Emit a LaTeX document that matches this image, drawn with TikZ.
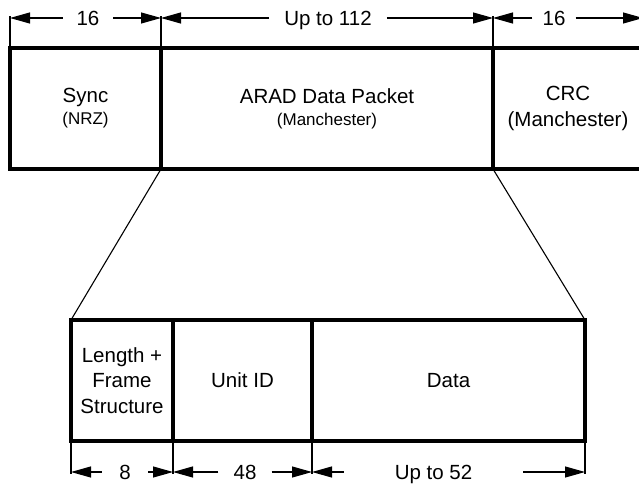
\documentclass[tikz,border=0pt]{standalone}
\usepackage{fontspec}
\setmainfont{Liberation Sans}
\usetikzlibrary{arrows.meta}
\begin{document}
\begin{tikzpicture}[x=1pt,y=-1pt,
  box/.style={draw, line width=4pt, outer sep=0pt, inner sep=0pt, minimum height=121pt, align=center},
  bigfont/.style={font=\fontsize{20.5}{#1}\selectfont},
  dim/.style={line width=1.1pt, -{Triangle[length=20pt,width=11pt]}},
  ext/.style={line width=1.1pt},
  lbl/.style={inner ysep=0pt, text height=14.7pt, text depth=0pt, font=\fontsize{20.5}{21}\selectfont}]
\newcommand{\subtxt}[1]{{\fontsize{17}{21}\selectfont #1}}
\useasboundingbox (0,0) rectangle (639,484);
% top frame
\node[box, bigfont=22, minimum width=151pt] (sync) at (85.5,108.5) {Sync\\\subtxt{(NRZ)}};
\node[box, bigfont=22, minimum width=332pt] (arad) at (327,108.5) {ARAD Data Packet\\\subtxt{(Manchester)}};
\node[box, bigfont=26, minimum width=150pt] (crc) at (568,108.5) {CRC\\(Manchester)};
% bottom frame
\node[box, bigfont=25.5, minimum width=102pt] (len) at (122,380.5) {Length +\\Frame\\Structure};
\node[box, bigfont=25.5, minimum width=139pt] (uid) at (242.5,380.5) {Unit ID};
\node[box, bigfont=25.5, minimum width=273pt] (data) at (448.5,380.5) {Data};
% zoom lines
\draw[ext] (arad.south west) -- (len.north west);
\draw[ext] (arad.south east) -- (data.north east);
% top extension lines
\coordinate (e1) at (10,16);
\coordinate (e2) at (161,16);
\coordinate (e3) at (493,16);
\coordinate (e4) at (643,16);
\draw[ext] (sync.north west) -- (e1);
\draw[ext] (sync.north east) -- (e2);
\draw[ext] (arad.north east) -- (e3);
\draw[ext] (crc.north east) -- (e4);
% top dimensions
\node[lbl, inner xsep=13.6pt] (d1) at (88,18) {16};
\node[lbl, inner xsep=15pt] (d2) at (328,18) {Up to 112};
\node[lbl, inner xsep=10pt] (d3) at (554,18) {16};
\draw[dim] (d1.west) -- (e1 |- d1.west);
\draw[dim] (d1.east) -- (e2 |- d1.east);
\draw[dim] (d2.west) -- (e2 |- d2.west);
\draw[dim] (d2.east) -- (e3 |- d2.east);
\draw[dim] (d3.west) -- (e3 |- d3.west);
\draw[dim] (d3.east) -- (e4 |- d3.east);
% bottom extension lines
\coordinate (b1) at (71,474);
\coordinate (b2) at (173,474);
\coordinate (b3) at (312,474);
\coordinate (b4) at (585,474);
\draw[ext] (len.south west) -- (b1);
\draw[ext] (len.south east) -- (b2);
\draw[ext] (uid.south east) -- (b3);
\draw[ext] (data.south east) -- (b4);
% bottom dimensions
\node[lbl, inner xsep=17.3pt] (f1) at (125,472) {8};
\node[lbl, inner xsep=15pt] (f2) at (245,472) {48};
\node[lbl, inner xsep=51pt] (f3) at (433.5,472) {Up to 52};
\draw[dim] (f1.west) -- (b1 |- f1.west);
\draw[dim] (f1.east) -- (b2 |- f1.east);
\draw[dim] (f2.west) -- (b2 |- f2.west);
\draw[dim] (f2.east) -- (b3 |- f2.east);
\draw[dim] (f3.west) -- (b3 |- f3.west);
\draw[dim] (f3.east) -- (b4 |- f3.east);
\end{tikzpicture}
\end{document}
